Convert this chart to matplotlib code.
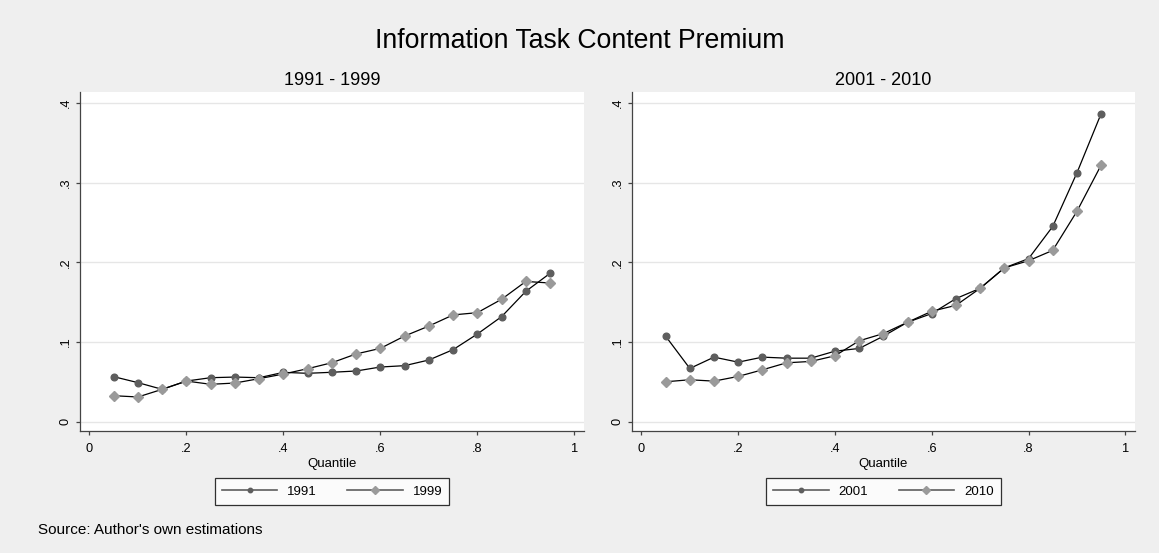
import numpy as np
import matplotlib.pyplot as plt
from matplotlib.lines import Line2D

plt.rcParams['font.family'] = ['Liberation Sans', 'DejaVu Sans']

quantile = [0.05, 0.10, 0.15, 0.20, 0.25, 0.30, 0.35, 0.40, 0.45, 0.50,
            0.55, 0.60, 0.65, 0.70, 0.75, 0.80, 0.85, 0.90, 0.95]

prem_1991 = [0.0565, 0.049, 0.0406, 0.051, 0.0552, 0.056, 0.0552, 0.0619, 0.0607, 0.062,
             0.0636, 0.0686, 0.0703, 0.0774, 0.0904, 0.110, 0.1318, 0.1636, 0.1862]
prem_1999 = [0.0326, 0.031, 0.0406, 0.051, 0.0469, 0.0485, 0.054, 0.0598, 0.0665, 0.074,
             0.085, 0.092, 0.1075, 0.120, 0.134, 0.1368, 0.1536, 0.176, 0.174]
prem_2001 = [0.1073, 0.0668, 0.081, 0.0747, 0.081, 0.0797, 0.0797, 0.0885, 0.0919, 0.1073,
             0.1248, 0.1357, 0.1545, 0.1674, 0.193, 0.2046, 0.245, 0.3123, 0.3866]
prem_2010 = [0.0501, 0.0526, 0.0509, 0.0568, 0.0651, 0.0739, 0.0756, 0.0827, 0.1015, 0.1106,
             0.1248, 0.1386, 0.146, 0.1674, 0.193, 0.202, 0.215, 0.264, 0.322]

panels = [("1991 - 1999", ("1991", prem_1991), ("1999", prem_1999)),
          ("2001 - 2010", ("2001", prem_2001), ("2010", prem_2010))]

xticks = [0, 0.2, 0.4, 0.6, 0.8, 1]
xtick_labels = ["0", ".2", ".4", ".6", ".8", "1"]
yticks = [0, 0.1, 0.2, 0.3, 0.4]
ytick_labels = ["0", ".1", ".2", ".3", ".4"]

bg = '#efefef'
dark = '#5e5e5e'
light = '#9a9a9a'

fig = plt.figure(figsize=(11.59, 5.53), dpi=100, facecolor=bg)
fig.text(0.5, 1 - 41 / 553, "Information Task Content Premium",
         fontsize=19.2, ha='center', va='center')

ax_pos = [[0.069, 0.2206, 0.4349, 0.613],
          [0.5453, 0.2206, 0.434, 0.613]]

for pos, (subtitle, s1, s2) in zip(ax_pos, panels):
    ax = fig.add_axes(pos)
    ax.set_facecolor('white')
    ax.plot(quantile, s1[1], color='black', lw=0.9, marker='o', ms=4.8,
            mfc=dark, mec=dark, zorder=3)
    ax.plot(quantile, s2[1], color='black', lw=0.9, marker='D', ms=5.6,
            mfc=light, mec=light, zorder=3)

    ax.set_xlim(-0.0195, 1.02)
    ax.set_ylim(-0.0117, 0.4137)
    ax.set_xticks(xticks)
    ax.set_xticklabels(xtick_labels)
    ax.set_yticks(yticks)
    ax.set_yticklabels(ytick_labels, rotation=90, va='center')
    ax.grid(axis='y', color='#e6e6e6', lw=1.0)
    ax.set_axisbelow(True)
    for side in ['top', 'right']:
        ax.spines[side].set_visible(False)
    for side in ['left', 'bottom']:
        ax.spines[side].set_color('#444444')
        ax.spines[side].set_linewidth(0.9)
    ax.tick_params(direction='out', length=3, width=0.9, color='#444444',
                   labelsize=9.2)
    ax.tick_params(axis='x', pad=5.5)
    ax.tick_params(axis='y', pad=3)
    ax.set_xlabel("Quantile", fontsize=9.5, labelpad=2)
    ax.set_title(subtitle, fontsize=13, pad=5)

    handles = [Line2D([], [], color=dark, lw=1.2, marker='o', ms=3.2,
                      mfc=dark, mec=dark),
               Line2D([], [], color=dark, lw=1.2, marker='D', ms=4,
                      mfc=light, mec=light)]
    leg = ax.legend(handles, [s1[0], s2[0]], loc='center',
                    bbox_to_anchor=(0.5, -0.179), ncol=2, frameon=True,
                    fancybox=False, edgecolor='black', fontsize=9.5,
                    handlelength=4.2, columnspacing=2.3, borderpad=0.55,
                    handletextpad=0.75)
    leg.get_frame().set_linewidth(0.9)

fig.text(38 / 1159, 1 - 530 / 553, "Source: Author's own estimations",
         fontsize=11, va='center', ha='left')

fig.savefig("out.png", dpi=100, facecolor=bg)
